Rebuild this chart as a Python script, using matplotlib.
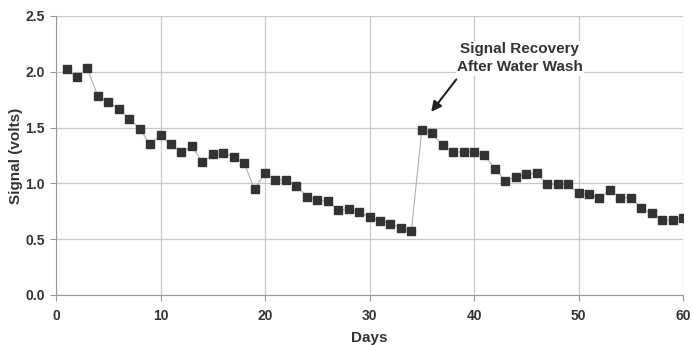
import matplotlib
matplotlib.use("Agg")
import matplotlib.pyplot as plt

days = list(range(1, 61))
signal = [2.02, 1.95, 2.03, 1.78, 1.73, 1.67, 1.58, 1.49, 1.35, 1.43,
          1.35, 1.28, 1.33, 1.19, 1.26, 1.27, 1.24, 1.18, 0.95, 1.09,
          1.03, 1.03, 0.98, 0.88, 0.85, 0.84, 0.76, 0.77, 0.74, 0.70,
          0.66, 0.64, 0.60, 0.57, 1.48, 1.45, 1.34, 1.28, 1.28, 1.28,
          1.25, 1.13, 1.02, 1.06, 1.08, 1.09, 0.99, 0.99, 0.99, 0.91,
          0.90, 0.87, 0.94, 0.87, 0.87, 0.78, 0.73, 0.67, 0.67, 0.69]
xticks = [0, 10, 20, 30, 40, 50, 60]
yticks = [0.0, 0.5, 1.0, 1.5, 2.0, 2.5]
ytick_labels = ["0.0", "0.5", "1.0", "1.5", "2.0", "2.5"]

plt.rcParams['font.family'] = ['Liberation Sans', 'DejaVu Sans']
txt = '#333333'

fig = plt.figure(figsize=(6.92, 3.45), dpi=100)
ax = fig.add_axes([0.081, 0.145, 0.906, 0.809])
ax.plot(days, signal, color='#b0b0b0', lw=0.8, marker='s', markersize=6.3,
        markerfacecolor='#333333', markeredgecolor='#333333', zorder=3)
ax.set_xlim(0, 60)
ax.set_ylim(0, 2.5)
ax.set_xticks(xticks)
ax.set_yticks(yticks)
ax.set_yticklabels(ytick_labels)
ax.grid(True, color='#c8c8c8', lw=0.9)
ax.set_axisbelow(True)
for s in ['top', 'right']:
    ax.spines[s].set_visible(False)
for s in ['left', 'bottom']:
    ax.spines[s].set_color('#999999')
ax.tick_params(colors='#999999', labelcolor=txt, labelsize=10, length=4)
for lab in ax.get_xticklabels() + ax.get_yticklabels():
    lab.set_fontweight('bold')
ax.tick_params(axis='x', pad=6)
ax.tick_params(axis='y', pad=4)
ax.set_xlabel('Days', fontsize=11, fontweight='bold', color=txt)
ax.set_ylabel('Signal (volts)', fontsize=11, fontweight='bold', color=txt)
ax.xaxis.set_label_coords(0.5, -0.128)
ax.yaxis.set_label_coords(-0.052, 0.5)
ax.text(44.4, 2.12, 'Signal Recovery\nAfter Water Wash',
        ha='center', va='center', fontsize=11, fontweight='bold', color=txt,
        linespacing=1.35, zorder=4,
        bbox=dict(boxstyle='square,pad=0.1', fc='white', ec='none'))
ax.annotate('', xy=(35.9, 1.64), xytext=(38.3, 1.93),
            arrowprops=dict(arrowstyle='-|>', color='#222222', lw=1.5,
                            mutation_scale=15, shrinkA=0, shrinkB=0))
fig.savefig('out.png', dpi=100)
